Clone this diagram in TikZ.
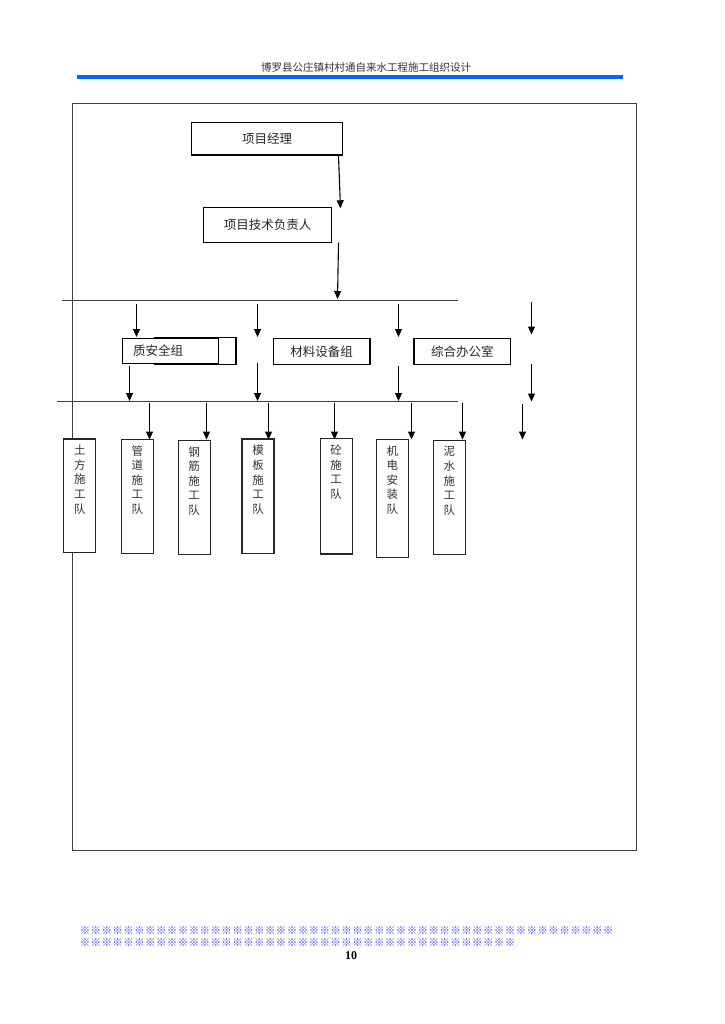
\documentclass[tikz,border=0pt]{standalone}
\usepackage{fontspec}
\setmainfont{Liberation Serif}
\newfontfamily\cjk{Noto Sans CJK SC}
\usetikzlibrary{arrows.meta}
\definecolor{barblue}{RGB}{0,102,250}
\definecolor{starblue}{RGB}{60,60,255}
\begin{document}
\begin{tikzpicture}[x=1pt,y=-1pt,
  box/.style={draw=black,line width=1.1pt,fill=white,inner sep=0pt,font=\cjk\fontsize{12.5}{14}\selectfont,text=black!85},
  vbox/.style={draw=black!85,line width=1.1pt,fill=white,inner sep=0pt,minimum width=32pt},
  vtext/.style={anchor=north,inner sep=0pt,align=center,font=\cjk\fontsize{11.5}{14.6}\selectfont,text=black!80},
  arr/.style={line width=1.1pt,-{Triangle[length=8pt,width=7pt]}},
  ln/.style={line width=1pt,draw=black!75},
  star/.style={font=\cjk\fontsize{10.5}{11}\selectfont,text=starblue,inner sep=0pt}]
\useasboundingbox (0,0) rectangle (724,1024);
\fill[white] (0,0) rectangle (724,1024);
% header
\node[font=\cjk\fontsize{10.5}{12}\selectfont,text=black!80] (head) at (366,68) {博罗县公庄镇村村通自来水工程施工组织设计};
\fill[barblue] (77,75) rectangle (623,79.5);
% frame
\draw[ln] (72.5,103.5) rectangle (636.5,850.5);
% top boxes
\node[box,minimum width=151pt,minimum height=32.7pt] (pm) at (267.2,138.7) {项目经理};
\node[box,minimum width=128.4pt,minimum height=35pt] (tech) at (267.5,224.8) {项目技术负责人};
\coordinate (a1s) at (338.5,156); \coordinate (a1e) at (340.5,208.3);
\coordinate (a2s) at (338.5,242.7); \coordinate (a2e) at (337.5,299);
\draw[arr] (a1s) -- (a1e);
\draw[arr] (a2s) -- (a2e);
% line 1
\coordinate (l1L) at (61.7,300.5); \coordinate (l1R) at (458.3,300.5);
\draw[ln] (l1L) -- (l1R);
% middle boxes
\node[box,minimum width=81.1pt,minimum height=26.6pt] (qaB) at (195.45,351) {};
\node[box,minimum width=96.1pt,minimum height=25pt,text width=75.5pt,inner xsep=10.3pt,align=left] (qa) at (170.75,350.8) {质安全组};
\node[box,minimum width=96.6pt,minimum height=25.5pt] (mat) at (321.7,351.3) {材料设备组};
\node[box,minimum width=96.6pt,minimum height=25.5pt] (off) at (462.3,351.3) {综合办公室};
% tier 1 arrows
\foreach \n/\x/\ys/\ye in {b1/136.5/303.5/337, b2/257.5/303.5/337, b3/398.5/303.5/337, b4/531.5/301.7/334.5}{
  \coordinate (\n s) at (\x,\ys); \coordinate (\n e) at (\x,\ye);
  \draw[arr] (\n s) -- (\n e);
}
% tier 2 arrows
\foreach \n/\x/\ys/\ye in {c1/129.5/366/401, c2/257.5/362.7/401, c3/398.5/366/401, c4/531.5/364/401.5}{
  \coordinate (\n s) at (\x,\ys); \coordinate (\n e) at (\x,\ye);
  \draw[arr] (\n s) -- (\n e);
}
% line 2
\coordinate (l2L) at (57.4,401.5); \coordinate (l2R) at (458,401.5);
\draw[ln] (l2L) -- (l2R);
% bottom boxes
\node[vbox,minimum height=113.3pt] (t1) at (79.85,495.65) {};
\node[vbox,minimum height=114pt] (t2) at (137.35,496.3) {};
\node[vbox,minimum height=114pt] (t3) at (194.15,497.3) {};
\node[vbox,minimum height=114.3pt] (t4) at (258,496.15) {};
\node[vbox,minimum height=115.3pt] (t5) at (336.15,496.35) {};
\node[vbox,minimum height=118pt] (t6) at (392.3,498.3) {};
\node[vbox,minimum height=114pt] (t7) at (449.3,497.3) {};
\node[vtext,yshift=-6.5pt] at (t1.north) {土\\方\\施\\工\\队};
\node[vtext,yshift=-6.5pt] at (t2.north) {管\\道\\施\\工\\队};
\node[vtext,yshift=-6.5pt] at (t3.north) {钢\\筋\\施\\工\\队};
\node[vtext,yshift=-6.5pt] at (t4.north) {模\\板\\施\\工\\队};
\node[vtext,yshift=-6.5pt] at (t5.north) {砼\\施\\工\\队};
\node[vtext,yshift=-6.5pt] at (t6.north) {机\\电\\安\\装\\队};
\node[vtext,yshift=-6.5pt] at (t7.north) {泥\\水\\施\\工\\队};
% tier 3 arrows
\foreach \n/\x/\ys in {d1/149.5/402.5, d2/206.5/402.5, d3/268.5/402.5, d4/334.5/402.5, d5/411.5/402.5, d6/462.5/402.5, d7/522.5/404}{
  \coordinate (\n s) at (\x,\ys); \coordinate (\n e) at (\x,439.5);
  \draw[arr] (\n s) -- (\n e);
}
% footer
\foreach \i in {0,...,48}{
  \node[star] at (85+10.9*\i,931) {※};
}
\foreach \i in {0,...,39}{
  \node[star] at (85+10.9*\i,943) {※};
}
\node[font=\bfseries\fontsize{12}{14}\selectfont] (pg) at (351,956) {10};
\end{tikzpicture}
\end{document}
